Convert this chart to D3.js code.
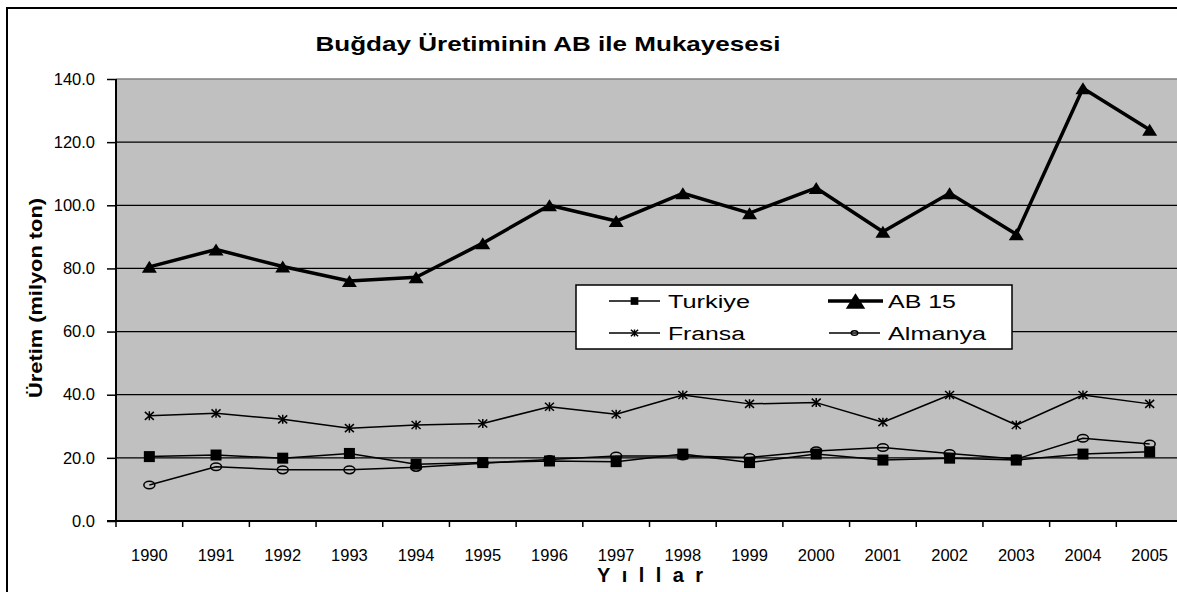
<!DOCTYPE html>
<html>
<head>
<meta charset="utf-8">
<script src="https://cdn.jsdelivr.net/npm/d3@7"></script>
<style>
  body { margin: 0; background: #fff; }
  svg { display: block; font-family: "Liberation Sans", Arial, sans-serif; }
</style>
</head>
<body>
<svg></svg>
<script>
let years = ['1990','1991','1992','1993','1994','1995','1996','1997','1998','1999','2000','2001','2002','2003','2004','2005']
let turkiye = [20.4, 20.9, 19.9, 21.4, 18.0, 18.5, 19.0, 18.8, 21.2, 18.5, 21.2, 19.3, 19.9, 19.3, 21.2, 21.9]
let ab15 = [80.5, 86.0, 80.6, 76.0, 77.2, 88.0, 100.0, 95.0, 103.8, 97.5, 105.5, 91.6, 103.8, 90.8, 137.1, 123.9]
let fransa = [33.3, 34.1, 32.2, 29.4, 30.4, 30.9, 36.2, 33.8, 39.9, 37.1, 37.5, 31.3, 39.9, 30.4, 39.9, 37.1]
let almanya = [11.4, 17.2, 16.2, 16.2, 17.0, 18.3, 19.5, 20.6, 20.6, 20.1, 22.2, 23.3, 21.4, 19.6, 26.2, 24.4]
let yTicks = [0, 20, 40, 60, 80, 100, 120, 140]

let width = 1177
let height = 592
let plotLeft = 116
let plotRight = 1183
let plotTop = 79
let plotBottom = 521

let svg = d3.select('svg')
svg.attr('width', width).attr('height', height)

let xScale = d3.scaleBand().domain(years).range([plotLeft, plotRight])
let yScale = d3.scaleLinear().domain([0, 140]).range([plotBottom, plotTop])
let bw = xScale.bandwidth()
let cx = (i) => xScale(years[i]) + bw / 2

// outer chart border
svg.append('rect')
    .attr('x', 7).attr('y', 8)
    .attr('width', 1200).attr('height', 620)
    .attr('fill', '#fff').attr('stroke', '#000').attr('stroke-width', 2)

// plot area
svg.append('rect')
    .attr('x', plotLeft).attr('y', plotTop)
    .attr('width', plotRight - plotLeft).attr('height', plotBottom - plotTop)
    .attr('fill', '#c0c0c0')

// gridlines
svg.selectAll('.grid')
    .data(yTicks.filter(d => d > 0))
    .enter()
    .append('line')
    .attr('x1', plotLeft).attr('x2', plotRight)
    .attr('y1', d => yScale(d)).attr('y2', d => yScale(d))
    .attr('stroke', d => d === 140 ? '#808080' : '#000')
    .attr('stroke-width', 1.3)

// axes
let yAxis = d3.axisLeft(yScale)
    .tickValues(yTicks)
    .tickFormat(d3.format('.1f'))
    .tickSize(9)
    .tickSizeOuter(0)
    .tickPadding(12)

let gy = svg.append('g')
    .attr('transform', `translate(${plotLeft}, 0)`)
    .call(yAxis)
gy.select('.domain').remove()
gy.selectAll('line').attr('stroke-width', 1.5)
gy.selectAll('text').attr('font-size', 16.5).attr('font-family', 'Liberation Sans').attr('fill', '#000')

let xAxis = d3.axisBottom(xScale).tickSize(6).tickSizeOuter(0).tickPadding(22)
let gx = svg.append('g')
    .attr('transform', `translate(0, ${plotBottom})`)
    .call(xAxis)
gx.select('.domain').remove()
gx.selectAll('.tick line')
    .attr('x1', -bw / 2).attr('x2', -bw / 2)
    .attr('stroke-width', 1.5)
gx.selectAll('text').attr('font-size', 16.5).attr('font-family', 'Liberation Sans').attr('fill', '#000')

svg.append('line')
    .attr('x1', plotLeft).attr('x2', plotLeft)
    .attr('y1', plotTop).attr('y2', plotBottom + 1)
    .attr('stroke', '#000').attr('stroke-width', 2)
svg.append('line')
    .attr('x1', plotLeft - 9).attr('x2', plotRight)
    .attr('y1', plotBottom).attr('y2', plotBottom)
    .attr('stroke', '#000').attr('stroke-width', 2)

// markers
let drawMarker = (g, type, x, y, s) => {
    if (type === 'square') {
        g.append('rect')
            .attr('x', x - 5.5 * s).attr('y', y - 5.5 * s)
            .attr('width', 11 * s).attr('height', 11 * s)
            .attr('fill', '#000')
    } else if (type === 'triangle') {
        g.append('path')
            .attr('d', `M${x - 7.5 * s},${y + 6 * s}L${x + 7.5 * s},${y + 6 * s}L${x},${y - 6 * s}Z`)
            .attr('fill', '#000')
    } else if (type === 'star') {
        g.append('path')
            .attr('d', `M${x - 4.5 * s},${y - 4 * s}L${x + 4.5 * s},${y + 4 * s}M${x - 4.5 * s},${y + 4 * s}L${x + 4.5 * s},${y - 4 * s}M${x},${y - 4.5 * s}L${x},${y + 4.5 * s}`)
            .attr('stroke', '#000').attr('stroke-width', 1.5).attr('fill', 'none')
    } else {
        g.append('ellipse')
            .attr('cx', x).attr('cy', y)
            .attr('rx', 5.5 * s).attr('ry', 3.8 * s)
            .attr('fill', 'none').attr('stroke', '#000').attr('stroke-width', 1.5)
    }
}

let series = [
    { name: 'Turkiye', values: turkiye, marker: 'square', lw: 1.5 },
    { name: 'AB 15', values: ab15, marker: 'triangle', lw: 3.5 },
    { name: 'Fransa', values: fransa, marker: 'star', lw: 1.5 },
    { name: 'Almanya', values: almanya, marker: 'circle', lw: 1.5 }
]

let line = d3.line()
    .x((d, i) => cx(i))
    .y(d => yScale(d))

series.forEach(s => {
    let g = svg.append('g')
    g.append('path')
        .attr('d', line(s.values))
        .attr('fill', 'none')
        .attr('stroke', '#000')
        .attr('stroke-width', s.lw)
        .attr('stroke-linejoin', 'round')
    s.values.forEach((v, i) => drawMarker(g, s.marker, cx(i), yScale(v), 1))
})

// legend
let legend = svg.append('g')
legend.append('rect')
    .attr('x', 576).attr('y', 285)
    .attr('width', 436).attr('height', 64)
    .attr('fill', '#fff').attr('stroke', '#000').attr('stroke-width', 1.5)

let legendPos = [
    { x1: 609, x2: 660, tx: 668, y: 301, tl: 82 },
    { x1: 828, x2: 883, tx: 888, y: 301, tl: 68 },
    { x1: 609, x2: 660, tx: 668, y: 333, tl: 77 },
    { x1: 829, x2: 880, tx: 888, y: 333, tl: 98 }
]
let legendScale = [0.7, 1.3, 0.8, 0.6]

series.forEach((s, i) => {
    let p = legendPos[i]
    legend.append('line')
        .attr('x1', p.x1).attr('x2', p.x2)
        .attr('y1', p.y).attr('y2', p.y)
        .attr('stroke', '#000').attr('stroke-width', s.lw)
    drawMarker(legend, s.marker, (p.x1 + p.x2) / 2, p.y, legendScale[i])
    legend.append('text')
        .attr('x', p.tx).attr('y', p.y + 6.5)
        .attr('font-size', 18)
        .attr('textLength', p.tl)
        .attr('lengthAdjust', 'spacingAndGlyphs')
        .text(s.name)
})

// titles
svg.append('text')
    .attr('x', 548).attr('y', 51)
    .attr('text-anchor', 'middle')
    .attr('font-size', 21).attr('font-weight', 'bold')
    .attr('textLength', 465).attr('lengthAdjust', 'spacingAndGlyphs')
    .text('Buğday Üretiminin AB ile Mukayesesi')

svg.append('text')
    .attr('transform', 'translate(42, 298) rotate(-90)')
    .attr('text-anchor', 'middle')
    .attr('font-size', 19).attr('font-weight', 'bold')
    .attr('textLength', 200).attr('lengthAdjust', 'spacingAndGlyphs')
    .text('Üretim (milyon ton)')

svg.append('text')
    .attr('x', 650).attr('y', 582)
    .attr('text-anchor', 'middle')
    .attr('font-size', 20).attr('font-weight', 'bold')
    .attr('textLength', 106).attr('lengthAdjust', 'spacing')
    .text('Yıllar')
</script>
</body>
</html>
